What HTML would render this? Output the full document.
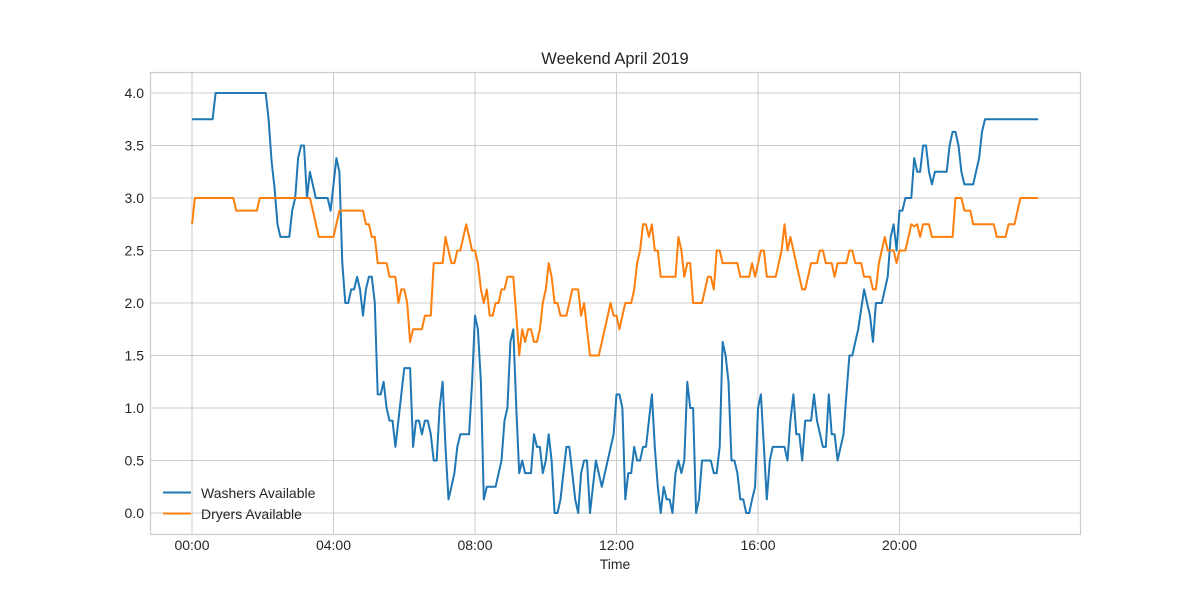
<!DOCTYPE html>
<html><head><meta charset="utf-8"><style>
body{margin:0;background:#fff;}
svg{display:block;font-family:"Liberation Sans",sans-serif;}
</style></head><body>
<svg id="chart" width="1200" height="600">
<rect x="0" y="0" width="1200" height="600" fill="#fff"/>
<g id="grid"></g>
<g id="series"></g>
<rect x="150.5" y="72.5" width="930" height="462" fill="none" stroke="#cccccc" stroke-width="1.2"/>
<g id="ticks"></g>
<text x="615" y="64" text-anchor="middle" font-size="16.5" fill="#262626">Weekend April 2019</text>
<text x="615" y="569" text-anchor="middle" font-size="14" fill="#262626">Time</text>
<g>
<line x1="163" y1="492.5" x2="191" y2="492.5" stroke="#1f77b4" stroke-width="2"/>
<text x="201" y="498" font-size="14" fill="#262626">Washers Available</text>
<line x1="163" y1="513.5" x2="191" y2="513.5" stroke="#ff7f0e" stroke-width="2"/>
<text x="201" y="519" font-size="14" fill="#262626">Dryers Available</text>
</g>
</svg>
<script>
const xTickMinutes=[0,240,480,720,960,1200];
const xTickLabels=["00:00","04:00","08:00","12:00","16:00","20:00"];
const yTicks=[0,0.5,1,1.5,2,2.5,3,3.5,4];
const washerMinutes=[0,35,40,125,130,135,140,145,150,165,170,175,180,185,190,195,200,210,230,235,240,245,250,255,260,265,270,275,280,285,290,295,300,305,310,315,320,325,330,335,340,345,350,355,360,370,375,380,385,390,395,400,405,410,415,420,425,430,435,440,445,450,455,470,475,480,485,490,495,500,515,525,530,535,540,545,550,555,560,565,575,580,585,590,595,600,605,610,615,620,625,630,635,640,645,650,655,660,665,670,675,680,685,695,715,720,725,730,735,740,745,750,755,760,765,770,775,780,785,790,795,800,805,810,815,820,825,830,835,840,845,850,855,860,865,880,885,890,895,900,905,910,915,920,925,930,935,940,945,950,955,960,965,970,975,980,985,1005,1010,1015,1020,1025,1030,1035,1040,1050,1055,1060,1070,1075,1080,1085,1090,1095,1105,1110,1115,1120,1125,1130,1140,1145,1150,1155,1160,1170,1180,1185,1190,1195,1200,1205,1210,1220,1225,1230,1235,1240,1245,1250,1255,1260,1280,1285,1290,1295,1300,1305,1310,1325,1335,1340,1345,1435];
const washerValues=[3.75,3.75,4.0,4.0,3.75,3.35,3.1,2.75,2.63,2.63,2.88,3.0,3.38,3.5,3.5,3.0,3.25,3.0,3.0,2.88,3.13,3.38,3.25,2.38,2.0,2.0,2.13,2.13,2.25,2.13,1.88,2.13,2.25,2.25,2.0,1.13,1.13,1.25,1.0,0.88,0.88,0.63,0.88,1.13,1.38,1.38,0.63,0.88,0.88,0.75,0.88,0.88,0.75,0.5,0.5,1.0,1.25,0.63,0.13,0.25,0.38,0.63,0.75,0.75,1.25,1.88,1.75,1.25,0.13,0.25,0.25,0.5,0.88,1.0,1.63,1.75,1.0,0.38,0.5,0.38,0.38,0.75,0.63,0.63,0.38,0.5,0.75,0.5,0.0,0.0,0.13,0.38,0.63,0.63,0.38,0.13,0.0,0.38,0.5,0.5,0.0,0.25,0.5,0.25,0.75,1.13,1.13,1.0,0.13,0.38,0.38,0.63,0.5,0.5,0.63,0.63,0.88,1.13,0.63,0.25,0.0,0.25,0.13,0.13,0.0,0.38,0.5,0.38,0.5,1.25,1.0,1.0,0.0,0.13,0.5,0.5,0.38,0.38,0.63,1.63,1.5,1.25,0.5,0.5,0.38,0.13,0.13,0.0,0.0,0.13,0.25,1.0,1.13,0.63,0.13,0.5,0.63,0.63,0.5,0.88,1.13,0.75,0.75,0.5,0.88,0.88,1.13,0.88,0.63,0.63,1.13,0.75,0.75,0.5,0.75,1.13,1.5,1.5,1.63,1.75,2.13,2.0,1.88,1.63,2.0,2.0,2.25,2.63,2.75,2.5,2.88,2.88,3.0,3.0,3.38,3.25,3.25,3.5,3.5,3.25,3.13,3.25,3.25,3.5,3.63,3.63,3.5,3.25,3.13,3.13,3.38,3.63,3.75,3.75];
const dryerMinutes=[0,5,70,75,110,115,200,205,215,240,250,290,295,300,305,310,315,330,335,345,350,355,360,365,370,375,390,395,405,410,425,430,435,440,445,450,455,465,470,475,480,485,490,495,500,505,510,515,520,525,530,535,545,550,555,560,565,570,575,580,585,590,595,600,605,610,615,620,625,635,640,645,655,660,665,670,675,690,700,710,715,720,725,730,735,745,750,755,760,765,770,775,780,785,790,795,820,825,830,835,840,845,850,865,875,880,885,890,895,900,925,930,945,950,955,965,970,975,990,1000,1005,1010,1015,1020,1030,1035,1040,1050,1060,1065,1070,1075,1085,1090,1095,1110,1115,1120,1125,1135,1140,1150,1155,1160,1165,1175,1180,1190,1195,1200,1210,1220,1225,1230,1235,1240,1250,1255,1290,1295,1305,1310,1320,1325,1360,1365,1380,1385,1395,1405,1435];
const dryerValues=[2.75,3.0,3.0,2.88,2.88,3.0,3.0,2.88,2.63,2.63,2.88,2.88,2.75,2.75,2.63,2.63,2.38,2.38,2.25,2.25,2.0,2.13,2.13,2.0,1.63,1.75,1.75,1.88,1.88,2.38,2.38,2.63,2.5,2.38,2.38,2.5,2.5,2.75,2.63,2.5,2.5,2.38,2.13,2.0,2.13,1.88,1.88,2.0,2.0,2.13,2.13,2.25,2.25,1.88,1.5,1.75,1.63,1.75,1.75,1.63,1.63,1.75,2.0,2.13,2.38,2.25,2.0,2.0,1.88,1.88,2.0,2.13,2.13,1.88,2.0,1.75,1.5,1.5,1.75,2.0,1.88,1.88,1.75,1.88,2.0,2.0,2.13,2.38,2.5,2.75,2.75,2.63,2.75,2.5,2.5,2.25,2.25,2.63,2.5,2.25,2.38,2.38,2.0,2.0,2.25,2.25,2.13,2.5,2.5,2.38,2.38,2.25,2.25,2.38,2.25,2.5,2.5,2.25,2.25,2.5,2.75,2.5,2.63,2.5,2.25,2.13,2.13,2.38,2.38,2.5,2.5,2.38,2.38,2.25,2.38,2.38,2.5,2.5,2.38,2.38,2.25,2.25,2.13,2.13,2.38,2.63,2.5,2.5,2.38,2.5,2.5,2.75,2.73,2.75,2.63,2.75,2.75,2.63,2.63,3.0,3.0,2.88,2.88,2.75,2.75,2.63,2.63,2.75,2.75,3.0,3.0];

const NS="http://www.w3.org/2000/svg";
const X0=192, PXH=35.375, Y0=513, PXU=105;
function xs(m){return X0+m/60*PXH;}
function ys(v){return Y0-v*PXU;}
const grid=document.getElementById('grid'), ticks=document.getElementById('ticks'), series=document.getElementById('series');
function mk(tag,attrs,parent){const e=document.createElementNS(NS,tag);for(const k in attrs)e.setAttribute(k,attrs[k]);parent.appendChild(e);return e;}
xTickMinutes.forEach((m,i)=>{
  const l=mk('line',{x1:xs(m),x2:xs(m),y1:72,y2:534,stroke:'#cccccc','stroke-width':1},grid);
  
  
  const t=mk('text',{x:xs(m),y:550,'text-anchor':'middle','font-size':14,fill:'#262626'},ticks);
  t.textContent=xTickLabels[i];
  
  
});
yTicks.forEach(v=>{
  const l=mk('line',{x1:150,x2:1080,y1:ys(v),y2:ys(v),stroke:'#cccccc','stroke-width':1},grid);
  
  
  const t=mk('text',{x:144,y:ys(v)+5,'text-anchor':'end','font-size':14,fill:'#262626'},ticks);
  t.textContent=v.toFixed(1);
  
  
});
function line(ms,vs,color,name){
  const d=ms.map((m,i)=>(i?'L':'M')+xs(m).toFixed(1)+','+ys(vs[i]).toFixed(1)).join('');
  const p=mk('path',{d:d,fill:'none',stroke:color,'stroke-width':2,'stroke-linejoin':'round'},series);
  
  
}
line(washerMinutes,washerValues,'#1f77b4','washers-line');
line(dryerMinutes,dryerValues,'#ff7f0e','dryers-line');
</script>
</body></html>
